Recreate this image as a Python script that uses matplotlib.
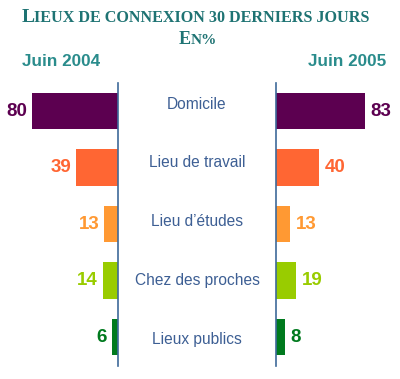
import matplotlib.pyplot as plt

# ─── données ───
categories = ["Domicile", "Lieu de travail", "Lieu d\u2019études", "Chez des proches", "Lieux publics"]
juin_2004 = [80, 39, 13, 14, 6]
juin_2005 = [83, 40, 13, 19, 8]
bar_colors = ["#5C0050", "#FF6633", "#FF9933", "#99CC00", "#007A1E"]

TEAL = "#1E7373"
TEAL_LIGHT = "#2A8C8C"
AXIS_BLUE = "#3E6A9A"
LABEL_BLUE = "#3D5F94"

W, H = 400, 379
fig = plt.figure(figsize=(W / 100, H / 100), dpi=100)
fig.patch.set_facecolor("white")


def px_box(x0, y0, x1, y1):
    """pixel box (top-left origin) -> figure fraction rect"""
    return [x0 / W, 1 - y1 / H, (x1 - x0) / W, (y1 - y0) / H]


ypos = list(range(len(categories)))
ylim = (4.513, -0.496)

# ─── gauche : Juin 2004 ───
axl = fig.add_axes(px_box(10.5, 83, 118, 366))
axl.barh(ypos, juin_2004, height=0.64, color=bar_colors, zorder=1)
axl.set_xlim(100, 0)
axl.set_ylim(*ylim)
for i, v in enumerate(juin_2004):
    axl.annotate(str(v), xy=(v, i), xytext=(-3.5, 0), textcoords="offset points",
                 ha="right", va="center", fontsize=13.5, fontweight="bold",
                 color=bar_colors[i], family="Liberation Sans")

# ─── droite : Juin 2005 ───
axr = fig.add_axes(px_box(276, 83, 383.5, 366))
axr.barh(ypos, juin_2005, height=0.64, color=bar_colors, zorder=1)
axr.set_xlim(0, 100)
axr.set_ylim(*ylim)
for i, v in enumerate(juin_2005):
    axr.annotate(str(v), xy=(v, i), xytext=(4, 0), textcoords="offset points",
                 ha="left", va="center", fontsize=13.5, fontweight="bold",
                 color=bar_colors[i], family="Liberation Sans")

for ax, side in [(axl, "right"), (axr, "left")]:
    for s in ax.spines.values():
        s.set_visible(False)
    ax.spines[side].set_visible(True)
    ax.spines[side].set_color(AXIS_BLUE)
    ax.spines[side].set_linewidth(1.2)
    ax.spines[side].set_zorder(3)
    ax.set_xticks([])
    ax.set_yticks([])
    ax.patch.set_alpha(0)

# ─── libellés au centre ───
axc = fig.add_axes(px_box(118, 83, 276, 366))
axc.set_xlim(0, 1)
axc.set_ylim(4.441, -0.356)
axc.axis("off")
for i, c in enumerate(categories):
    axc.text(0.5, i, c, ha="center", va="center", fontsize=11.2,
             color=LABEL_BLUE, family="Liberation Sans")

# ─── titres ───
fig.text(22 / W, 1 - 17 / H, "L", ha="left", va="center", fontsize=14,
         fontweight="bold", color=TEAL, family="Liberation Serif")
fig.text(34 / W, 1 - 18 / H, "IEUX DE CONNEXION 30 DERNIERS JOURS", ha="left", va="center",
         fontsize=11.6, fontweight="bold", color=TEAL, family="Liberation Serif")
fig.text(191 / W, 1 - 39 / H, "E", ha="right", va="center", fontsize=13,
         fontweight="bold", color=TEAL, family="Liberation Serif")
fig.text(191 / W, 1 - 40 / H, "N%", ha="left", va="center", fontsize=11,
         fontweight="bold", color=TEAL, family="Liberation Serif")

fig.text(22 / W, 1 - 61 / H, "Juin 2004", ha="left", va="center", fontsize=12.3,
         fontweight="bold", color=TEAL_LIGHT, family="Liberation Sans")
fig.text(386 / W, 1 - 61 / H, "Juin 2005", ha="right", va="center", fontsize=12.3,
         fontweight="bold", color=TEAL_LIGHT, family="Liberation Sans")

fig.savefig("out.png", dpi=100, facecolor="white")
